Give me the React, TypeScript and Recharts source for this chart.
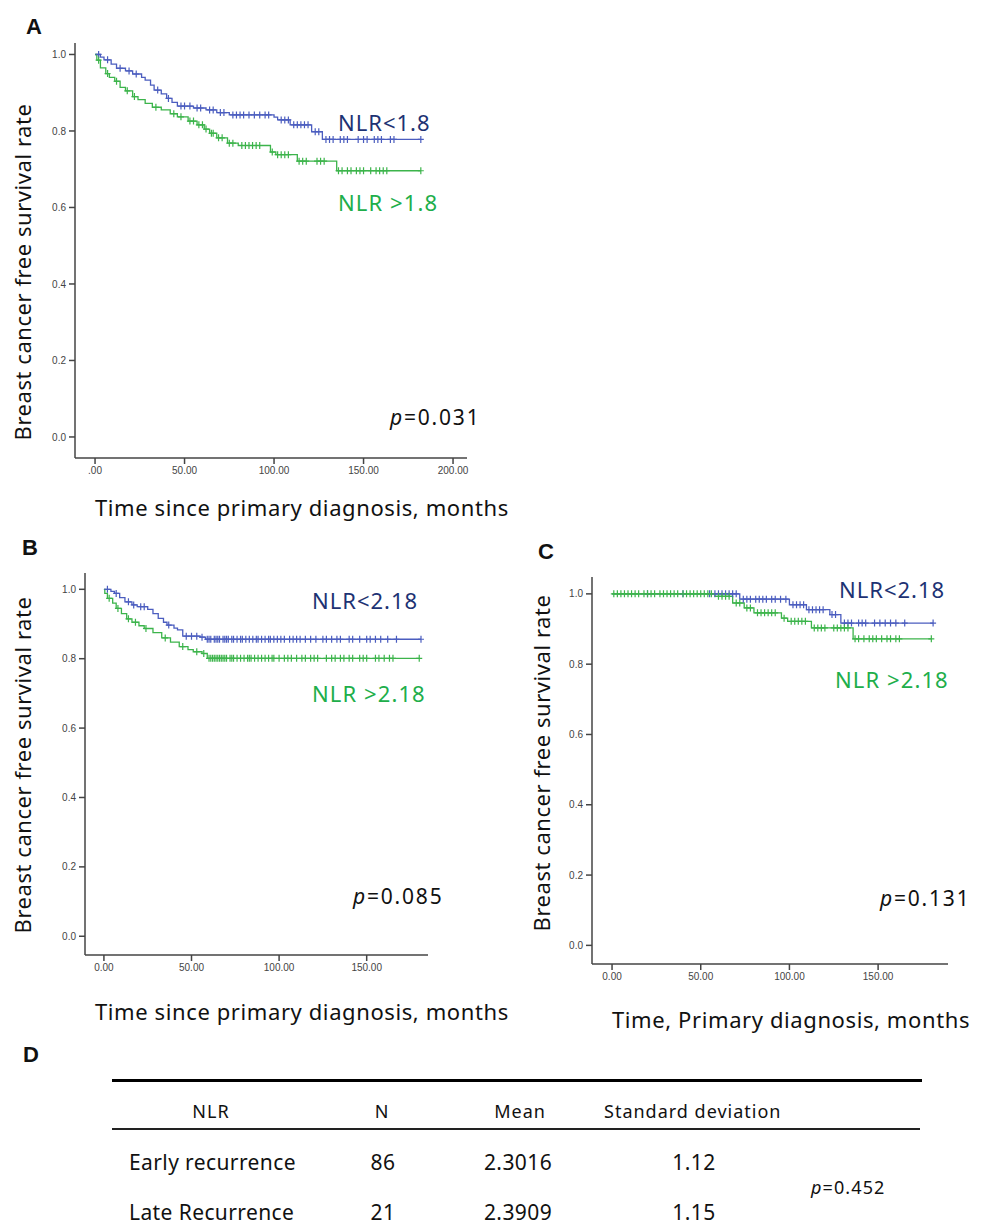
import React from "react";
import { LineChart, Line, XAxis, YAxis } from "recharts";

// rows: [time (months), survival, censored (1) / event (0)]
type Row = [number, number, number];

const aLow: Row[] = [
  [0, 1, 0], [2, 1, 1], [3, 0.993, 0], [5, 0.986, 0], [7, 0.986, 1], [9, 0.975, 0], [12, 0.964, 0],
  [14, 0.964, 1], [17, 0.957, 0], [19, 0.957, 1], [21, 0.949, 0], [23, 0.949, 1], [26, 0.94, 0],
  [28, 0.933, 0], [31, 0.92, 0], [33, 0.907, 0], [35, 0.907, 1], [37, 0.897, 0], [40, 0.885, 0],
  [41, 0.885, 1], [43, 0.875, 0], [46, 0.865, 0], [48, 0.865, 1], [50, 0.865, 1], [53, 0.865, 1],
  [55, 0.86, 0], [57, 0.86, 1], [59, 0.86, 1], [62, 0.855, 0], [64, 0.855, 1], [66, 0.855, 1],
  [68, 0.848, 0], [70, 0.848, 1], [72, 0.848, 1], [75, 0.842, 0], [77, 0.842, 1], [79, 0.842, 1],
  [81, 0.842, 1], [83, 0.842, 1], [86, 0.842, 1], [89, 0.842, 1], [92, 0.842, 1], [95, 0.842, 1],
  [97, 0.842, 1], [100, 0.836, 0], [102, 0.829, 0], [104, 0.829, 1], [106, 0.829, 1], [108, 0.829, 1],
  [109, 0.816, 0], [111, 0.816, 1], [113, 0.816, 1], [115, 0.816, 1], [117, 0.816, 1], [119, 0.816, 1],
  [121, 0.798, 0], [123, 0.798, 1], [125, 0.798, 1], [127, 0.778, 0], [129, 0.778, 1], [131, 0.778, 1],
  [133, 0.778, 1], [137, 0.778, 1], [139, 0.778, 1], [141, 0.778, 1], [147, 0.778, 1], [150, 0.778, 1],
  [152, 0.778, 1], [156, 0.778, 1], [158, 0.778, 1], [160, 0.778, 1], [165, 0.778, 1], [167, 0.778, 1],
  [182, 0.778, 1],
];

const aHigh: Row[] = [
  [0, 1, 0], [1, 0.985, 0], [2, 0.985, 1], [3, 0.965, 0], [6, 0.95, 0], [7, 0.95, 1], [8, 0.94, 0],
  [11, 0.93, 0], [12, 0.93, 1], [14, 0.914, 0], [17, 0.905, 0], [18, 0.905, 1], [21, 0.89, 0],
  [22, 0.89, 1], [24, 0.882, 0], [28, 0.872, 0], [32, 0.862, 0], [34, 0.862, 1], [37, 0.855, 0],
  [42, 0.845, 0], [44, 0.845, 1], [46, 0.837, 0], [48, 0.837, 1], [52, 0.826, 0], [53, 0.826, 1],
  [55, 0.826, 1], [57, 0.816, 0], [58, 0.816, 1], [60, 0.816, 1], [61, 0.805, 0], [62, 0.805, 1],
  [64, 0.794, 0], [65, 0.794, 1], [66, 0.794, 1], [68, 0.782, 0], [69, 0.782, 1], [71, 0.782, 1],
  [74, 0.768, 0], [75, 0.768, 1], [77, 0.768, 1], [80, 0.762, 0], [82, 0.762, 1], [84, 0.762, 1],
  [86, 0.762, 1], [88, 0.762, 1], [90, 0.762, 1], [92, 0.762, 1], [98, 0.745, 0], [99, 0.745, 1],
  [101, 0.738, 0], [102, 0.738, 1], [104, 0.738, 1], [106, 0.738, 1], [108, 0.738, 1], [113, 0.721, 0],
  [114, 0.721, 1], [116, 0.721, 1], [118, 0.721, 1], [124, 0.721, 1], [126, 0.721, 1], [128, 0.721, 1],
  [135, 0.696, 0], [136, 0.696, 1], [138, 0.696, 1], [141, 0.696, 1], [143, 0.696, 1], [146, 0.696, 1],
  [148, 0.696, 1], [150, 0.696, 1], [154, 0.696, 1], [157, 0.696, 1], [159, 0.696, 1], [161, 0.696, 1],
  [163, 0.696, 1], [182, 0.696, 1],
];

const bLow: Row[] = [
  [0, 1, 0], [2, 1, 1], [4, 0.994, 0], [6, 0.988, 0], [7, 0.988, 1], [9, 0.976, 0], [12, 0.964, 0],
  [14, 0.964, 1], [16, 0.955, 0], [17, 0.955, 1], [19, 0.95, 0], [21, 0.95, 1], [23, 0.95, 1],
  [25, 0.942, 0], [28, 0.93, 0], [31, 0.916, 0], [34, 0.905, 0], [36, 0.897, 0], [37, 0.897, 1],
  [40, 0.888, 0], [42, 0.883, 0], [45, 0.865, 0], [47, 0.865, 1], [50, 0.865, 1], [53, 0.865, 1],
  [55, 0.862, 0], [56, 0.862, 1], [58, 0.856, 0], [59, 0.856, 1], [60, 0.856, 1], [61, 0.856, 1],
  [63, 0.856, 1], [64, 0.856, 1], [65, 0.856, 1], [66, 0.856, 1], [68, 0.856, 1], [69, 0.856, 1],
  [70, 0.856, 1], [71, 0.856, 1], [73, 0.856, 1], [74, 0.856, 1], [76, 0.856, 1], [78, 0.856, 1],
  [79, 0.856, 1], [81, 0.856, 1], [83, 0.856, 1], [85, 0.856, 1], [87, 0.856, 1], [88, 0.856, 1],
  [90, 0.856, 1], [92, 0.856, 1], [94, 0.856, 1], [95, 0.856, 1], [97, 0.856, 1], [99, 0.856, 1],
  [101, 0.856, 1], [103, 0.856, 1], [106, 0.856, 1], [108, 0.856, 1], [110, 0.856, 1], [112, 0.856, 1],
  [115, 0.856, 1], [118, 0.856, 1], [121, 0.856, 1], [125, 0.856, 1], [127, 0.856, 1], [130, 0.856, 1],
  [133, 0.856, 1], [135, 0.856, 1], [140, 0.856, 1], [142, 0.856, 1], [146, 0.856, 1], [150, 0.856, 1],
  [152, 0.856, 1], [155, 0.856, 1], [158, 0.856, 1], [162, 0.856, 1], [167, 0.856, 1], [181, 0.856, 1],
];

const bHigh: Row[] = [
  [0, 1, 0], [0.5, 0.988, 0], [2, 0.974, 0], [3, 0.974, 1], [5, 0.96, 0], [7, 0.945, 0], [8, 0.945, 1],
  [10, 0.93, 0], [13, 0.915, 0], [14, 0.915, 1], [16, 0.905, 0], [18, 0.905, 1], [20, 0.895, 0],
  [23, 0.887, 0], [24, 0.887, 1], [28, 0.875, 0], [33, 0.86, 0], [35, 0.86, 1], [38, 0.848, 0],
  [43, 0.835, 0], [45, 0.835, 1], [48, 0.826, 0], [51, 0.82, 0], [53, 0.82, 1], [56, 0.815, 0],
  [57, 0.815, 1], [59, 0.801, 0], [60, 0.801, 1], [61, 0.801, 1], [62, 0.801, 1], [63, 0.801, 1],
  [64, 0.801, 1], [65, 0.801, 1], [66, 0.801, 1], [67, 0.801, 1], [68, 0.801, 1], [69, 0.801, 1],
  [70, 0.801, 1], [72, 0.801, 1], [73, 0.801, 1], [74, 0.801, 1], [76, 0.801, 1], [78, 0.801, 1],
  [80, 0.801, 1], [82, 0.801, 1], [83, 0.801, 1], [84, 0.801, 1], [86, 0.801, 1], [88, 0.801, 1],
  [90, 0.801, 1], [92, 0.801, 1], [94, 0.801, 1], [96, 0.801, 1], [97, 0.801, 1], [100, 0.801, 1],
  [103, 0.801, 1], [105, 0.801, 1], [107, 0.801, 1], [110, 0.801, 1], [113, 0.801, 1], [115, 0.801, 1],
  [118, 0.801, 1], [120, 0.801, 1], [122, 0.801, 1], [127, 0.801, 1], [130, 0.801, 1], [132, 0.801, 1],
  [135, 0.801, 1], [137, 0.801, 1], [140, 0.801, 1], [142, 0.801, 1], [146, 0.801, 1], [148, 0.801, 1],
  [150, 0.801, 1], [155, 0.801, 1], [157, 0.801, 1], [160, 0.801, 1], [163, 0.801, 1], [165, 0.801, 1],
  [180, 0.801, 1],
];

const cLow: Row[] = [
  [0, 1, 0], [20, 1, 1], [40, 1, 1], [55, 1, 1], [58, 1, 1], [60, 1, 1], [62, 1, 1], [64, 1, 1],
  [66, 1, 1], [68, 1, 1], [70, 1, 1], [72, 0.985, 0], [74, 0.985, 1], [76, 0.985, 1], [78, 0.985, 1],
  [81, 0.985, 1], [83, 0.985, 1], [85, 0.985, 1], [87, 0.985, 1], [90, 0.985, 1], [92, 0.985, 1],
  [95, 0.985, 1], [98, 0.985, 1], [100, 0.969, 0], [102, 0.969, 1], [104, 0.969, 1], [106, 0.969, 1],
  [108, 0.969, 1], [109.6, 0.955, 0], [111, 0.955, 1], [113, 0.955, 1], [115, 0.955, 1], [117, 0.955, 1],
  [119, 0.955, 1], [122.8, 0.941, 0], [124, 0.941, 1], [126, 0.941, 1], [129, 0.917, 0], [131, 0.917, 1],
  [133, 0.917, 1], [135, 0.917, 1], [139, 0.917, 1], [141, 0.917, 1], [143, 0.917, 1], [148, 0.917, 1],
  [151, 0.917, 1], [154, 0.917, 1], [157, 0.917, 1], [160, 0.917, 1], [165, 0.917, 1], [181, 0.917, 1],
];

const cHigh: Row[] = [
  [0, 1, 0], [1, 1, 1], [3, 1, 1], [5, 1, 1], [7, 1, 1], [9, 1, 1], [11, 1, 1], [13, 1, 1], [15, 1, 1],
  [18, 1, 1], [20, 1, 1], [22, 1, 1], [24, 1, 1], [27, 1, 1], [29, 1, 1], [31, 1, 1], [33, 1, 1],
  [35, 1, 1], [37, 1, 1], [40, 1, 1], [42, 1, 1], [44, 1, 1], [46, 1, 1], [48, 1, 1], [50, 1, 1],
  [52, 1, 1], [54, 1, 1], [56, 1, 1], [58, 0.993, 0], [60, 0.993, 1], [62, 0.993, 1], [64, 0.993, 1],
  [66, 0.993, 1], [68, 0.974, 0], [70, 0.974, 1], [72, 0.974, 1], [74.5, 0.96, 0], [76, 0.96, 1],
  [78, 0.96, 1], [80, 0.946, 0], [82, 0.946, 1], [84, 0.946, 1], [86, 0.946, 1], [88, 0.946, 1],
  [90, 0.946, 1], [92, 0.946, 1], [95.5, 0.931, 0], [97, 0.931, 1], [99, 0.922, 0], [101, 0.922, 1],
  [103, 0.922, 1], [105, 0.922, 1], [107, 0.922, 1], [109, 0.922, 1], [112.4, 0.903, 0], [114, 0.903, 1],
  [116, 0.903, 1], [118, 0.903, 1], [120, 0.903, 1], [125, 0.903, 1], [127, 0.903, 1], [129, 0.903, 1],
  [131, 0.903, 1], [133, 0.903, 1], [135.9, 0.872, 0], [137, 0.872, 1], [139, 0.872, 1], [142, 0.872, 1],
  [145, 0.872, 1], [147, 0.872, 1], [149, 0.872, 1], [152, 0.872, 1], [155, 0.872, 1], [157, 0.872, 1],
  [160, 0.872, 1], [162, 0.872, 1], [180, 0.872, 1],
];

const yTicks = [0, 0.2, 0.4, 0.6, 0.8, 1.0];
const xTicksA = [0, 50, 100, 150, 200];
const xTicksBC = [0, 50, 100, 150];

// table D
const tableHead = ["NLR", "N", "Mean", "Standard deviation"];
const tableGroups = ["Early recurrence", "Late Recurrence"];
const tableN = ["86", "21"];
const tableMean = ["2.3016", "2.3909"];
const tableSD = ["1.12", "1.15"];

const BLUE = "#4b5dbf";
const GREEN = "#3cb44b";
const NAVY = "#1d3273";
const GREEN_TXT = "#20ae4a";
const FONT = "'Noto Sans', 'Open Sans', sans-serif";

const toData = (rows: Row[]) => rows.map(([t, s, c]) => ({ t, s, c }));

function Censor(props: any) {
  const { cx, cy, payload, stroke } = props;
  if (!payload || !payload.c || cx == null) return <g />;
  return (
    <path
      d={`M${cx - 3},${cy}h6M${cx},${cy - 3.5}v7`}
      stroke={stroke}
      strokeWidth={1.2}
      fill="none"
    />
  );
}

function KM(props: any) {
  const { left, top, width, height, margin, yWidth, xHeight, xDomain, yDomain, xTicks, xFmt, low, high } = props;
  const axis = { stroke: "#444", strokeWidth: 1.5 };
  const tick = { fontSize: 10, fill: "#444", fontFamily: "'Liberation Sans', Arial, sans-serif" };
  return (
    <div style={{ position: "absolute", left, top }}>
      <LineChart width={width} height={height} margin={margin}>
        <XAxis
          type="number"
          dataKey="t"
          domain={xDomain}
          allowDataOverflow
          ticks={xTicks}
          interval={0}
          tickFormatter={xFmt}
          height={xHeight}
          axisLine={axis}
          tickLine={axis}
          tickSize={6}
          tickMargin={3}
          tick={tick}
        />
        <YAxis
          type="number"
          dataKey="s"
          domain={yDomain}
          allowDataOverflow
          ticks={yTicks}
          interval={0}
          tickFormatter={(v: number) => v.toFixed(1)}
          width={yWidth}
          axisLine={axis}
          tickLine={axis}
          tickSize={6}
          tickMargin={3}
          tick={tick}
        />
        <Line
          data={toData(low)}
          dataKey="s"
          type="stepAfter"
          stroke={BLUE}
          strokeWidth={1.3}
          dot={(p: any) => <Censor key={`l${p.index}`} {...p} />}
          activeDot={false}
          isAnimationActive={false}
        />
        <Line
          data={toData(high)}
          dataKey="s"
          type="stepAfter"
          stroke={GREEN}
          strokeWidth={1.3}
          dot={(p: any) => <Censor key={`h${p.index}`} {...p} />}
          activeDot={false}
          isAnimationActive={false}
        />
      </LineChart>
    </div>
  );
}

function T({ x, y, size = 22, color = "#111", children, bold, family = FONT, anchor = "left", ls = 0 }: any) {
  const tx = anchor === "center" ? "-50%" : "0";
  return (
    <div
      style={{
        position: "absolute",
        left: x,
        top: y,
        transform: `translate(${tx}, -50%)`,
        fontSize: size,
        color,
        fontFamily: family,
        fontWeight: bold ? 700 : 400,
        letterSpacing: ls,
        whiteSpace: "nowrap",
        lineHeight: 1,
      }}
    >
      {children}
    </div>
  );
}

function VT({ x, y, children }: any) {
  return (
    <div
      style={{
        position: "absolute",
        left: x,
        top: y,
        transform: "translate(-50%, -50%) rotate(-90deg)",
        fontSize: 22,
        letterSpacing: 0.55,
        color: "#111",
        fontFamily: FONT,
        whiteSpace: "nowrap",
        lineHeight: 1,
      }}
    >
      {children}
    </div>
  );
}

const P = ({ v }: any) => (
  <>
    <i>p</i>={v}
  </>
);

const PANEL = "'Liberation Sans', Arial, sans-serif";

export default function App() {
  const fmtA = (v: number) => (v === 0 ? ".00" : v.toFixed(2));
  const fmtBC = (v: number) => v.toFixed(2);
  return (
    <div style={{ position: "absolute", left: 0, top: 0, width: 984, height: 1231, background: "#fff" }}>
      {/* A */}
      <KM
        left={0}
        top={0}
        width={480}
        height={488}
        margin={{ top: 43, right: 13, bottom: 0, left: 0 }}
        yWidth={75}
        xHeight={30}
        xDomain={[-11.2, 207.8]}
        yDomain={[-0.055, 1.03]}
        xTicks={xTicksA}
        xFmt={fmtA}
        low={aLow}
        high={aHigh}
      />
      <T x={26} y={27} size={22} bold family={PANEL}>A</T>
      <VT x={22} y={272}>Breast cancer free survival rate</VT>
      <T x={95} y={507} ls={0.6}>Time since primary diagnosis, months</T>
      <T x={338} y={122} color={NAVY} ls={1}>NLR&lt;1.8</T>
      <T x={338} y={202} color={GREEN_TXT} ls={1.1}>NLR &gt;1.8</T>
      <T x={390} y={417} size={21} ls={1.8}><P v="0.031" /></T>

      {/* B */}
      <KM
        left={0}
        top={540}
        width={480}
        height={440}
        margin={{ top: 33, right: 52, bottom: 0, left: 0 }}
        yWidth={85}
        xHeight={25}
        xDomain={[-10.8, 185]}
        yDomain={[-0.054, 1.047]}
        xTicks={xTicksBC}
        xFmt={fmtBC}
        low={bLow}
        high={bHigh}
      />
      <T x={22} y={548} size={22} bold family={PANEL}>B</T>
      <VT x={22} y={765}>Breast cancer free survival rate</VT>
      <T x={95} y={1011} ls={0.6}>Time since primary diagnosis, months</T>
      <T x={312} y={600} color={NAVY} ls={1}>NLR&lt;2.18</T>
      <T x={312} y={693} color={GREEN_TXT} ls={1.1}>NLR &gt;2.18</T>
      <T x={353} y={896} size={21} ls={1.8}><P v="0.085" /></T>

      {/* C */}
      <KM
        left={500}
        top={540}
        width={470}
        height={450}
        margin={{ top: 37, right: 22, bottom: 0, left: 0 }}
        yWidth={92}
        xHeight={26}
        xDomain={[-11.3, 189.4]}
        yDomain={[-0.053, 1.048]}
        xTicks={xTicksBC}
        xFmt={fmtBC}
        low={cLow}
        high={cHigh}
      />
      <T x={538} y={552} size={22} bold family={PANEL}>C</T>
      <VT x={541} y={763}>Breast cancer free survival rate</VT>
      <T x={612} y={1019} ls={0.6}>Time, Primary diagnosis, months</T>
      <T x={839} y={589} color={NAVY} ls={1}>NLR&lt;2.18</T>
      <T x={835} y={679} color={GREEN_TXT} ls={1.1}>NLR &gt;2.18</T>
      <T x={880} y={898} size={21} ls={1.8}><P v="0.131" /></T>

      {/* D */}
      <T x={23} y={1055} size={22} bold family={PANEL}>D</T>
      <div style={{ position: "absolute", left: 112, top: 1079, width: 810, height: 3, background: "#000" }} />
      <div style={{ position: "absolute", left: 112, top: 1128, width: 808, height: 2, background: "#222" }} />
      <T x={211} y={1111} size={18} ls={1} anchor="center">{tableHead[0]}</T>
      <T x={382} y={1111} size={18} ls={1} anchor="center">{tableHead[1]}</T>
      <T x={520} y={1111} size={18} ls={1} anchor="center">{tableHead[2]}</T>
      <T x={604} y={1111} size={18} ls={1}>{tableHead[3]}</T>
      {tableGroups.map((g, i) => (
        <React.Fragment key={g}>
          <T x={129} y={1162 + i * 50} size={21} ls={0.4}>{g}</T>
          <T x={383} y={1162 + i * 50} size={21} ls={0.4} anchor="center">{tableN[i]}</T>
          <T x={518} y={1162 + i * 50} size={21} ls={0.4} anchor="center">{tableMean[i]}</T>
          <T x={694} y={1162 + i * 50} size={21} ls={0.4} anchor="center">{tableSD[i]}</T>
        </React.Fragment>
      ))}
      <T x={811} y={1187} size={18} ls={1.1}><P v="0.452" /></T>
    </div>
  );
}
